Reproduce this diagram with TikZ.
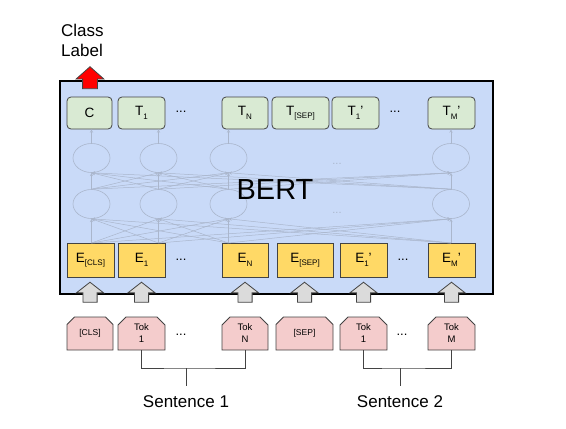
\documentclass[tikz,border=0pt]{standalone}
\usepackage{fontspec}
\setmainfont{Liberation Sans}
\usetikzlibrary{shapes.geometric,shapes.misc,shapes.arrows}

\definecolor{bertblue}{RGB}{201,218,248}
\definecolor{outgreen}{RGB}{217,234,211}
\definecolor{embyellow}{RGB}{255,217,102}
\definecolor{tokpink}{RGB}{244,204,204}
\definecolor{faintgray}{RGB}{170,182,204}
\definecolor{edgegray}{RGB}{67,67,67}

\newcommand{\lowsub}[1]{\raisebox{-3.5pt}{\fontsize{8}{9}\selectfont #1}}

\tikzset{
  outbox/.style={draw=edgegray, line width=0.8pt, fill=outgreen, rounded corners=4pt,
    minimum height=32pt, inner sep=0pt, font=\fontsize{13.5}{16}\selectfont},
  embbox/.style={draw=edgegray, line width=0.8pt, fill=embyellow,
    minimum height=34pt, inner sep=0pt, font=\fontsize{13.5}{16}\selectfont},
  tokbox/.style={chamfered rectangle, chamfered rectangle corners={north west,north east},
    chamfered rectangle xsep=4.5pt, draw=edgegray, line width=0.8pt, fill=tokpink,
    minimum height=33pt, inner sep=0pt, align=center, font=\fontsize{9.5}{12}\selectfont},
  hidden/.style={ellipse, draw=faintgray, line width=0.6pt, minimum width=37pt, minimum height=29pt},
  faintarrow/.style={draw=faintgray, line width=0.5pt, ->},
  dots/.style={font=\fontsize{13}{15}\selectfont},
  blockup/.style={single arrow, shape border rotate=90, draw=edgegray, line width=0.8pt,
    single arrow tip angle=104},
}

\begin{document}
\begin{tikzpicture}[x=1pt, y=-1pt, >=stealth]
    \useasboundingbox (0,0) rectangle (566,429);

    % BERT body
    \fill[bertblue] (60,81) rectangle (493,294);

    % Output tokens
    \node[outbox, minimum width=45pt] (tc)   at (89.5,113) {C};
    \node[outbox, minimum width=47pt] (t1)   at (141.5,113) {T\lowsub{1}};
    \node[outbox, minimum width=46pt] (tn)   at (245,113) {T\lowsub{N}};
    \node[outbox, minimum width=57pt] (tsep) at (300.5,113) {T\lowsub{[SEP]}};
    \node[outbox, minimum width=47pt] (t1p)  at (355.5,113) {T\lowsub{1}'};
    \node[outbox, minimum width=47pt] (tmp)  at (451.5,113) {T\lowsub{M}'};
    \node[dots] (tdots1) at (181,112) {...};
    \node[dots] (tdots2) at (395,112) {...};

    % Embeddings
    \node[embbox, minimum width=47pt] (ecls) at (90.5,260) {E\lowsub{[CLS]}};
    \node[embbox, minimum width=47pt] (e1)   at (141.5,260) {E\lowsub{1}};
    \node[embbox, minimum width=46pt] (en)   at (245,260) {E\lowsub{N}};
    \node[embbox, minimum width=56pt] (esep) at (305,260) {E\lowsub{[SEP]}};
    \node[embbox, minimum width=47pt] (e1p)  at (363.5,260) {E\lowsub{1}'};
    \node[embbox, minimum width=47pt] (emp)  at (451.5,260) {E\lowsub{M}'};
    \node[dots] (edots1) at (181,260) {...};
    \node[dots] (edots2) at (403,260) {...};

    % Hidden layers
    \foreach \x [count=\j] in {91.5,158.5,228.5,451} {
        \node[hidden] (u\j) at (\x,158) {};
        \node[hidden] (l\j) at (\x,204) {};
        \coordinate (in\j) at (\x,243);
    }
    \node[dots, faintgray, font=\fontsize{11}{13}\selectfont] (udots) at (337,164) {...};
    \node[dots, faintgray, font=\fontsize{11}{13}\selectfont] (ldots) at (337,213) {...};
    \foreach \i in {1,...,4} {
        \foreach \j in {1,...,4} {
            \draw[faintarrow] (l\i.north) -- (u\j.south);
            \draw[faintarrow] (in\i) -- (l\j.south);
        }
    }
    \foreach \t [count=\j] in {tc,t1,tn,tmp}
        \draw[faintarrow] (u\j.north) -- (u\j.north |- \t.south);

    \node[font=\fontsize{29}{32}\selectfont] (bert) at (275,190) {BERT};
    \draw[line width=2.6pt] (60,81) rectangle (493,294);

    % Input tokens
    \node[tokbox, minimum width=46pt] (kcls) at (90,333.5) {\fontsize{8.5}{10}\selectfont [CLS]};
    \node[tokbox, minimum width=47pt] (k1)   at (141.5,333.5) {Tok\\1};
    \node[tokbox, minimum width=46pt] (kn)   at (245,333.5) {Tok\\N};
    \node[tokbox, minimum width=57pt] (ksep) at (304.5,333.5) {\fontsize{8.5}{10}\selectfont [SEP]};
    \node[tokbox, minimum width=47pt] (k1p)  at (363.5,333.5) {Tok\\1};
    \node[tokbox, minimum width=47pt] (kmp)  at (451.5,333.5) {Tok\\M};
    \node[dots] (kdots1) at (181,335) {...};
    \node[dots] (kdots2) at (402,335) {...};

    % Block arrows into BERT
    \foreach \k in {kcls,k1,kn,ksep,k1p,kmp}
        \node[blockup, fill=gray!28, inner sep=6.7pt, minimum height=20pt,
              single arrow head extend=6.5pt] at (\k |- 0,295) {};

    % Class label
    \node[blockup, fill=red, inner sep=7pt, minimum height=22pt,
          single arrow head extend=6.5pt, single arrow tip angle=97] (clsarrow) at (90,81) {};
    \node[anchor=north west, align=left, inner sep=0pt, font=\fontsize{17}{20}\selectfont]
        (classlabel) at (61,24) {Class\\Label};

    % Sentences
    \coordinate (s1) at (186,368);
    \coordinate (s2) at (400,368);
    \draw[edgegray, line width=0.8pt] (k1.south) |- (s1) -| (kn.south);
    \draw[edgegray, line width=0.8pt] (k1p.south) |- (s2) -| (kmp.south);
    \draw[edgegray, line width=0.8pt] (s1) -- ++(0,18) node[below=6pt, black, font=\fontsize{17}{20}\selectfont] (sent1) {Sentence 1};
    \draw[edgegray, line width=0.8pt] (s2) -- ++(0,18) node[below=6pt, black, font=\fontsize{17}{20}\selectfont] (sent2) {Sentence 2};
\end{tikzpicture}
\end{document}
